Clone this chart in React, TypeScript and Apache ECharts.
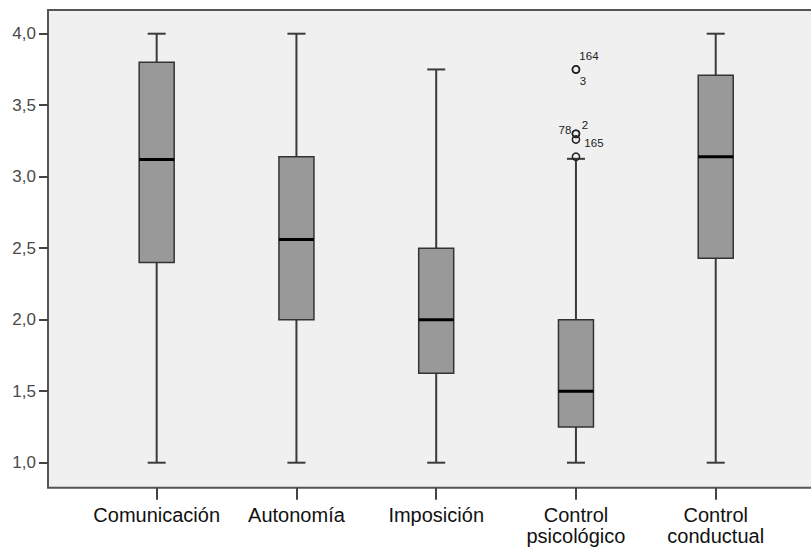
import React, { useEffect, useRef } from "react";
import * as echarts from "echarts";

const categories = ["Comunicación", "Autonomía", "Imposición", "Control\npsicológico", "Control\nconductual"];
const whiskerLow = [1.0, 1.0, 1.0, 1.0, 1.0];
const quartile1 = [2.4, 2.0, 1.625, 1.25, 2.43];
const medians = [3.12, 2.56, 2.0, 1.5, 3.14];
const quartile3 = [3.8, 3.14, 2.5, 2.0, 3.71];
const whiskerHigh = [4.0, 4.0, 3.75, 3.125, 4.0];

const outlierCategory = 3;
const outlierValues = [3.75, 3.75, 3.3, 3.3, 3.26, 3.14];
const outlierLabels = ["164", "3", "78", "2", "165", ""];
const outlierLabelOffsets = [[13, -13], [7, 12], [-11, -4], [9, -9], [18, 3], [0, 0]];

const yTicks = [1.0, 1.5, 2.0, 2.5, 3.0, 3.5, 4.0];
const FONT = "Arial, 'Liberation Sans', sans-serif";

export default function App() {
  const ref = useRef<HTMLDivElement>(null);
  useEffect(() => {
    if (!ref.current) return;
    const chart = echarts.init(ref.current, null, { renderer: "svg" });
    const boxData = categories.map((_, i) => [i, whiskerLow[i], quartile1[i], medians[i], quartile3[i], whiskerHigh[i]]);
    const outData = outlierValues.map((v, i) => [outlierCategory, v, i]);
    chart.setOption({
      animation: false,
      backgroundColor: "#ffffff",
      graphic: [
        {
          type: "rect",
          z: -10,
          shape: { x: 48, y: 10, width: 790, height: 477.7 },
          style: { fill: "#f0f0f0", stroke: "#555", lineWidth: 2 },
          silent: true,
        },
      ],
      grid: { left: 86.8, right: 25.4, top: 33.7, bottom: 84.3 },
      xAxis: {
        type: "category",
        data: categories,
        offset: 25,
        axisLine: { show: false },
        axisTick: { show: true, alignWithLabel: true, length: 12, lineStyle: { color: "#444", width: 2 } },
        axisLabel: {
          margin: 17,
          fontSize: 20,
          lineHeight: 21,
          color: "#111",
          fontFamily: FONT,
          interval: 0,
        },
        splitLine: { show: false },
      },
      yAxis: {
        type: "value",
        min: 1,
        max: 4,
        interval: 0.5,
        offset: 38.8,
        axisLine: { show: false },
        axisTick: { show: true, length: 9, lineStyle: { color: "#444", width: 2 } },
        axisLabel: {
          margin: 12,
          fontSize: 17,
          color: "#4a4a4a",
          fontFamily: FONT,
          formatter: (v: number) => (yTicks.includes(v) ? v.toFixed(1).replace(".", ",") : ""),
        },
        splitLine: { show: false },
      },
      series: [
        {
          type: "custom",
          data: boxData,
          encode: { x: 0, y: [1, 2, 3, 4, 5] },
          renderItem: (params: any, api: any) => {
            const idx = api.value(0);
            const lo = api.coord([idx, api.value(1)]);
            const q1 = api.coord([idx, api.value(2)]);
            const md = api.coord([idx, api.value(3)]);
            const q3 = api.coord([idx, api.value(4)]);
            const hi = api.coord([idx, api.value(5)]);
            const cx = lo[0];
            const bw = 35;
            const cw = 18;
            const wStyle = { stroke: "#3a3a3a", lineWidth: 2 };
            return {
              type: "group",
              children: [
                { type: "line", shape: { x1: cx, y1: lo[1], x2: cx, y2: q1[1] }, style: wStyle },
                { type: "line", shape: { x1: cx, y1: q3[1], x2: cx, y2: hi[1] }, style: wStyle },
                { type: "line", shape: { x1: cx - cw / 2, y1: lo[1], x2: cx + cw / 2, y2: lo[1] }, style: wStyle },
                { type: "line", shape: { x1: cx - cw / 2, y1: hi[1], x2: cx + cw / 2, y2: hi[1] }, style: wStyle },
                {
                  type: "rect",
                  shape: { x: cx - bw / 2, y: q3[1], width: bw, height: q1[1] - q3[1] },
                  style: { fill: "#999999", stroke: "#333", lineWidth: 1.5 },
                },
                { type: "line", shape: { x1: cx - bw / 2, y1: md[1], x2: cx + bw / 2, y2: md[1] }, style: { stroke: "#000", lineWidth: 3 } },
              ],
            };
          },
        },
        {
          type: "custom",
          data: outData,
          encode: { x: 0, y: 1 },
          z: 5,
          renderItem: (params: any, api: any) => {
            const p = api.coord([api.value(0), api.value(1)]);
            const i = api.value(2);
            const off = outlierLabelOffsets[i];
            const children: any[] = [
              { type: "circle", shape: { cx: p[0], cy: p[1], r: 3.6 }, style: { fill: "none", stroke: "#222", lineWidth: 1.5 } },
            ];
            if (outlierLabels[i]) {
              children.push({
                type: "text",
                x: p[0] + off[0],
                y: p[1] + off[1],
                style: {
                  text: outlierLabels[i],
                  fill: "#222",
                  font: "11.5px " + FONT,
                  align: "center",
                  verticalAlign: "middle",
                },
              });
            }
            return { type: "group", children };
          },
        },
      ],
    });
    return () => chart.dispose();
  }, []);
  return <div ref={ref} style={{ position: "fixed", left: 0, top: 0, width: 811, height: 547 }} />;
}
